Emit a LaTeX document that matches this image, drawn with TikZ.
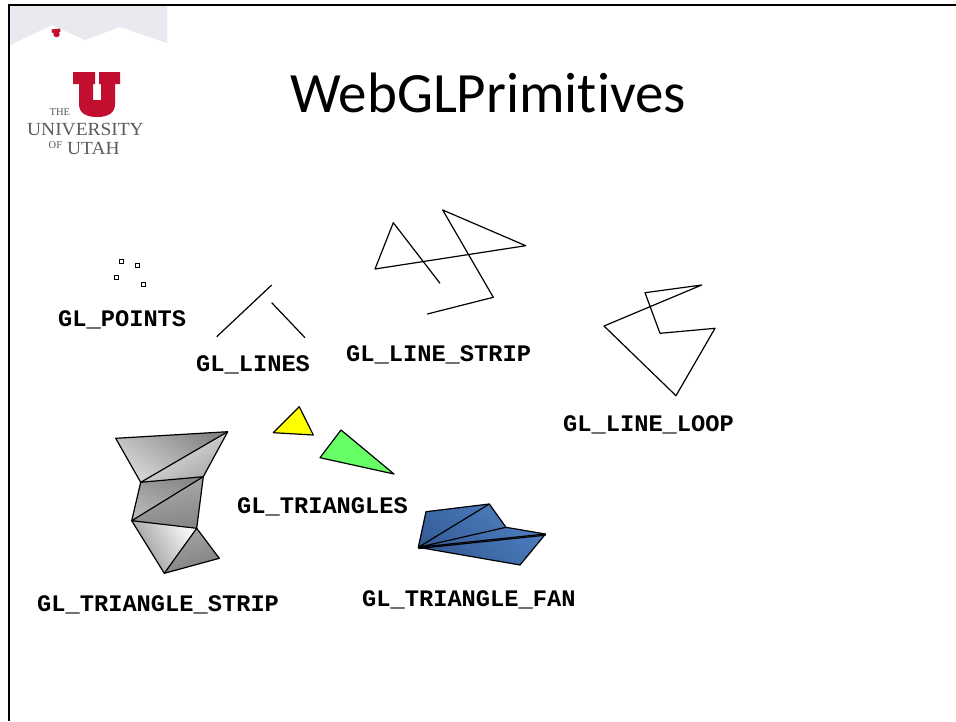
\documentclass[tikz,border=0pt]{standalone}
\usepackage{fontspec}
\setmainfont{Carlito}[Ligatures=CommonOff]
\newfontfamily\labelfont{Liberation Mono}
\newfontfamily\logofont{Liberation Serif}
\definecolor{utahred}{HTML}{C20E2F}
\definecolor{logogray}{HTML}{5A5B5E}
\definecolor{skyband}{HTML}{E9EAF0}
\definecolor{primyellow}{HTML}{FFFF00}
\definecolor{primgreen}{HTML}{66FF66}
\definecolor{fanlight}{HTML}{4F80C2}
\definecolor{fandark}{HTML}{335C96}
\tikzset{
  frame/.style={line width=2.5pt, black},
  prim/.style={line width=1.2pt, black, line join=round},
  edge/.style={line width=1.2pt, black, line join=round},
  pt/.style={line width=1pt, black, fill=white},
  lbl/.style={font=\labelfont\bfseries\fontsize{23.7}{24}\selectfont, anchor=base west, inner sep=0pt},
  logotext/.style={font=\logofont, text=logogray, inner sep=0pt, anchor=base west},
}
\begin{document}
\begin{tikzpicture}[x=1pt, y=-1pt]
\useasboundingbox (0,0) rectangle (956,721);
\fill[white] (0,0) rectangle (956,721);

% --- logo: mountain band, small and large block U, wordmark
\fill[skyband] (10,6) -- (167,6) -- (167,43) -- (120,27) -- (85,40) -- (52,25) -- (10,45) -- cycle;
\fill[utahred] (51.5,29.5) -- (60,28.5) -- (60.5,31.8) -- (59.2,32) -- (59.6,34.8)
  .. controls (59.6,37.5) and (54.2,38) .. (53.7,35.3) -- (53.3,32.6) -- (52,32.8) -- cycle;
\fill[utahred]
  (73,72) -- (95,72) -- (95,84) -- (93,84) -- (93,100) -- (101,100) -- (101,84) -- (99,84)
  -- (99,72) -- (120,72) -- (120,84) -- (115,84) -- (115,104)
  .. controls (115,113) and (108,117) .. (97,117)
  .. controls (86,117) and (79,113) .. (79,104) -- (79,84) -- (73,84) -- cycle;
\node[logotext, font=\logofont\fontsize{10.5}{11}\selectfont] (the) at (49.5,115.5) {THE};
\node[logotext, font=\logofont\fontsize{18.5}{19}\selectfont, xscale=1.05] (univ) at (27,135) {UNIVERSITY};
\node[logotext, font=\logofont\fontsize{10.5}{11}\selectfont] (of) at (48.5,148.5) {OF};
\node[logotext, font=\logofont\fontsize{18.5}{19}\selectfont, xscale=1.05] (utah) at (67,154) {UTAH};

% --- slide frame
\draw[frame] (9,721) -- (9,5) -- (956,5);

% --- title
\node[anchor=base, inner sep=0pt, font=\fontsize{57}{60}\selectfont] (title) at (488,112) {WebGLPrimit\kern0pt ives};

% --- GL_POINTS
\foreach \px/\py in {121.7/261.7, 137.3/265.5, 116.7/277.3, 143.3/284}
  \draw[pt] (\px-2,\py-2) rectangle (\px+2,\py+2);
\node[lbl] (lpoints) at (58,326.5) {GL\_POINTS};

% --- GL_LINES
\draw[prim] (216.7,336.7) -- (271.7,285);
\draw[prim] (271.7,302.7) -- (305,337.7);
\node[lbl] (llines) at (196,371.5) {GL\_LINES};

% --- GL_LINE_STRIP
\draw[prim] (440,283.3) -- (393.3,222.7) -- (375,269) -- (525.7,245.7)
  -- (442.7,210) -- (493.3,297.3) -- (427.3,314);
\node[lbl] (lstrip) at (346,361.5) {GL\_LINE\_STRIP};

% --- GL_LINE_LOOP
\draw[prim] (701.7,285) -- (645,292.7) -- (660,333.3) -- (715,328.3)
  -- (676,395.7) -- (604,326) -- cycle;
\node[lbl] (lloop) at (563,431.5) {GL\_LINE\_LOOP};

% --- GL_TRIANGLES
\filldraw[edge, fill=primyellow] (299.3,406.7) -- (273.3,432.7) -- (313.3,435) -- cycle;
\filldraw[edge, fill=primgreen] (341,430) -- (320,457.7) -- (394,474) -- cycle;
\node[lbl] (ltris) at (237,513.5) {GL\_TRIANGLES};

% --- GL_TRIANGLE_STRIP
\coordinate (A) at (115.7,438.3);
\coordinate (B) at (227.7,431.7);
\coordinate (C) at (140.7,482.3);
\coordinate (D) at (203.3,476.7);
\coordinate (E) at (131.7,520.7);
\coordinate (F) at (196.7,528.3);
\coordinate (G) at (164.3,573.3);
\coordinate (H) at (219.3,558.3);
\shade[top color=gray!95, bottom color=gray!30, shading angle=-35] (A) -- (B) -- (C) -- cycle;
\shade[top color=gray!15, bottom color=gray!70, shading angle=30] (B) -- (C) -- (D) -- cycle;
\shade[top color=gray!95, bottom color=gray!55, shading angle=-20] (C) -- (D) -- (E) -- cycle;
\shade[top color=gray!65, bottom color=gray!95, shading angle=10] (D) -- (E) -- (F) -- cycle;
\shade[top color=gray!5, bottom color=gray!85, shading angle=-60] (E) -- (F) -- (G) -- cycle;
\shade[top color=gray!70, bottom color=gray!100, shading angle=20] (F) -- (G) -- (H) -- cycle;
\draw[edge] (A) -- (B) -- (D) -- (F) -- (H) -- (G) -- (E) -- (C) -- cycle;
\draw[edge] (C) -- (B) (C) -- (D) -- (E) -- (F) -- (G);
\node[lbl] (lstripT) at (37,611.5) {GL\_TRIANGLE\_STRIP};

% --- GL_TRIANGLE_FAN
\coordinate (O) at (418.3,547.3);
\coordinate (P1) at (426,511.7);
\coordinate (P2) at (489.3,504);
\coordinate (P3) at (506,527.3);
\coordinate (P4) at (545.5,534);
\coordinate (P5) at (520,565);
\shade[top color=fanlight, bottom color=fandark, shading angle=-40]
  (O) -- (P1) -- (P2) -- (P3) -- (P4) -- (P5) -- cycle;
\draw[edge] (O) -- (P1) -- (P2) -- (P3) -- (P4) -- (P5) -- cycle;
\draw[edge] (O) -- (P2) (O) -- (P3) (O) -- (P4);
\draw[edge] ([yshift=-1.2pt]O) -- ([yshift=-1.2pt]P4);
\node[lbl] (lfan) at (362,606.5) {GL\_TRIANGLE\_FAN};
\end{tikzpicture}
\end{document}
